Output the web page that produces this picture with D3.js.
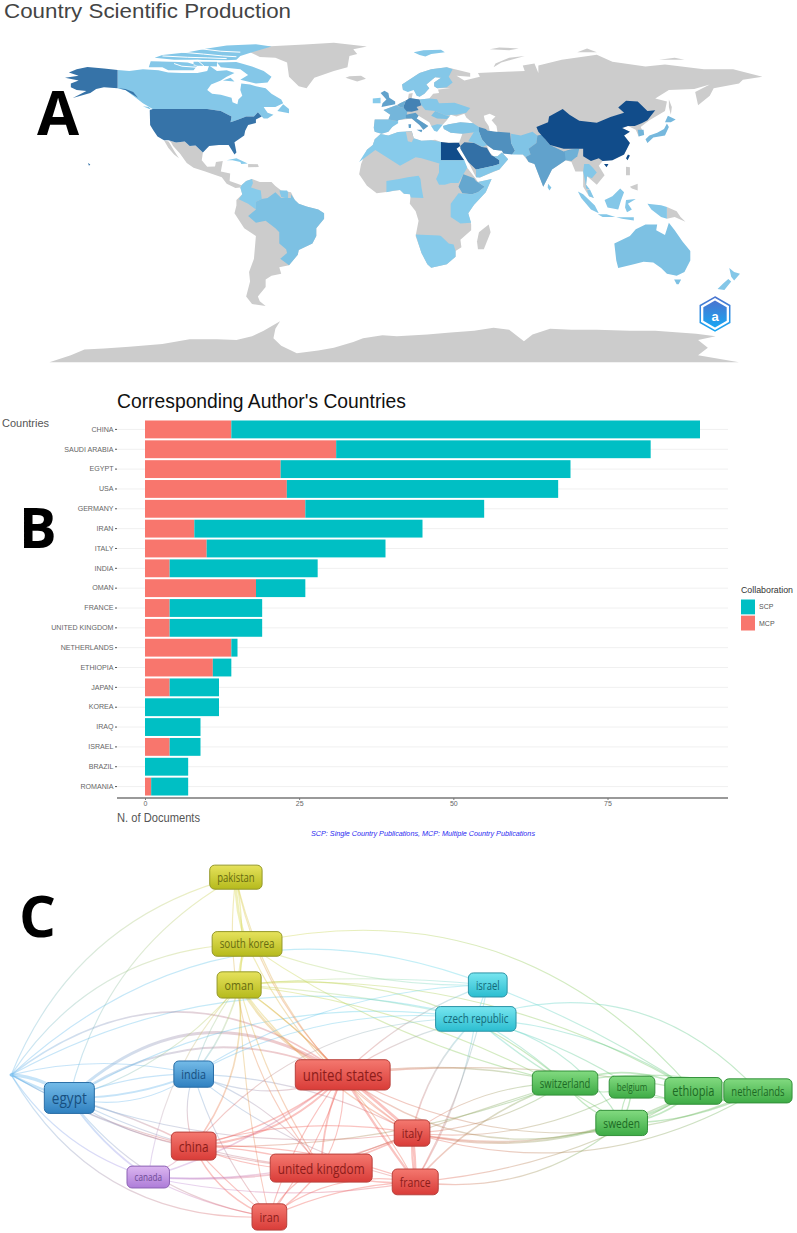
<!DOCTYPE html>
<html>
<head>
<meta charset="utf-8">
<script src="https://cdn.jsdelivr.net/npm/d3@7"></script>
<style>
  html, body { margin: 0; padding: 0; background: #fff; }
  svg { display: block; }
  text { font-family: "Liberation Sans", Arial, sans-serif; }
  .panel-letter { font-family: "Open Sans", sans-serif; font-weight: 700; fill: #000; }
  .node-label { font-family: "Open Sans", sans-serif; text-anchor: middle; dominant-baseline: central; }
  .soft { filter: blur(0.45px); }
</style>
</head>
<body>
<svg id="chart" width="797" height="1233"></svg>
<script>
// ---- panel A: map outlines as [lon, lat] rings ----
const greyLand = [
  // greenland, iceland
  [[-73,79],[-65,82],[-45,83],[-30,84],[-13,82],[-20,80.5],[-18,78],[-22,77],[-23,71],[-30,69],[-40,65.5],[-44,60],[-48,61],[-53,66],[-54,73.5],[-60,76],[-68,76.5]],
  [[-24,65.5],[-18,63.5],[-13.5,65],[-16,66.5],[-22,66.3]],
  // mexico and central america, baja
  [[-114.8,32.5],[-111,31.3],[-106.5,31.8],[-104,29.5],[-101,29.7],[-97.2,26],[-97.8,22],[-95,18.5],[-91,18.7],[-90.5,21],[-87,21.5],[-88,16],[-83.2,15],[-83.5,11],[-79.5,9.5],[-77.4,8.7],[-78,7.5],[-80.5,7.3],[-85,9.5],[-87.5,13],[-92,14.5],[-96,16],[-102,18],[-105.5,20.5],[-109,25.5],[-112.5,29.5],[-113.5,31.3]],
  [[-117.2,32.5],[-114.8,31.8],[-112,27],[-109.5,23],[-112,25],[-115,28.5]],
  [[-74,20],[-69,19.8],[-68.5,18.4],[-74,18.2]],
  // south america
  [[-77.4,8.7],[-75,11],[-72,12],[-68,10.5],[-62,10.5],[-60,8.3],[-57,6],[-52,5],[-50,1],[-48,-1],[-44,-2.5],[-38,-4],[-35,-6],[-35,-9],[-39,-14],[-39,-18],[-41,-22],[-48,-25.5],[-48.5,-28],[-53,-33.5],[-58,-34.5],[-57,-38],[-62,-39],[-65,-41],[-65,-45],[-69,-50],[-68,-52.5],[-65,-55],[-72,-54],[-75,-50],[-73,-42],[-73.5,-37],[-71,-30],[-70,-18],[-76,-14],[-81,-6],[-80,-2],[-80,1],[-77,4],[-78,7.5]],
  // antarctica
  [[-176,-84.7],[-165,-81],[-158,-78],[-148,-77.5],[-135,-76.5],[-118,-75],[-104,-72.6],[-90,-72.5],[-80,-73],[-72,-71],[-66,-68],[-57.6,-63],[-60,-67],[-61,-72],[-57,-76],[-49,-80],[-38,-78.5],[-30,-77],[-20,-74],[-15,-72],[-5,-70.5],[2.4,-71],[18,-70],[30,-69],[42,-68],[52,-66.5],[60,-67.5],[67.6,-73.6],[72,-70],[81,-67],[92,-67.5],[105,-67.5],[122,-68],[135,-68],[156,-69.6],[166,-71],[157,-73],[162,-77],[157,-81],[178,-84.7]],
  // africa
  [[-6,35.8],[-2,35],[3,36.8],[10,37.3],[11,33.5],[15,32.3],[20,32.5],[22,32.8],[25,31.6],[32,31.2],[34.3,31.2],[33,28],[35.5,24],[37,21],[38.5,18],[43,12],[44,10.5],[51,12],[48,5],[42,-1.5],[39,-6],[40.5,-12],[40.5,-15],[35,-20],[35.5,-24],[32.5,-26],[32.5,-29],[28,-33],[20,-34.8],[18,-33],[15,-27],[12,-18],[13.5,-10],[12,-5],[9,-1],[9.5,4],[6,4.3],[4,6.3],[-4,5],[-8,4.5],[-13,8.5],[-17,14.5],[-16,20],[-13,27.5],[-10,30],[-9,33]],
  [[49.5,-12],[50.5,-16],[47,-25],[44,-25],[43.5,-21],[44.5,-16]],
  // eurasia
  [[-9,37],[-9.5,39],[-9,43.5],[-2,43.5],[-1,46],[-4.5,48.5],[2,51],[4,52],[8,54],[8.5,57],[10.5,57.5],[10,54.5],[14,54],[19,54.5],[21,57],[24,57.5],[23.5,59.3],[30,60],[23,60],[21.5,61],[21.5,63],[25,65.5],[22,65.8],[17.5,62],[19,60],[16.5,57],[14,55.5],[11,59],[5.5,59],[5,62],[14,68],[20,70],[28,71],[40,68],[40,66],[33,66.5],[37,64],[45,66],[44,68],[55,68.5],[68,69],[67,72],[73,73],[75,68],[75,72],[87,75],[105,77.7],[113,74],[130,71.5],[140,72.5],[160,70],[175,70],[190,66],[180,64.5],[178,62.5],[165,60],[163,56],[157,51],[155.5,58],[163,62],[155,59.5],[142,59],[135,54.5],[141,53],[140,48],[132,43],[127.5,39.5],[129.3,36],[126.5,34.5],[125,38],[121,40],[118,39],[122,37],[119,35],[122,31],[119,25],[113,22],[108,21.5],[106,19],[109,14],[105,9],[100,13.5],[99.5,9],[103.5,2],[101,3],[98,8],[98,16],[94,16],[92,21],[89,22],[82,17],[80,13],[77.5,8],[73,20],[70,21],[67,25],[57,25.5],[56.3,27],[52,27.5],[48.5,30],[50,26],[52,24],[54,24],[56.3,26],[59.5,22.5],[55,17],[45,12.8],[43,13],[39,21],[35,28],[34.9,29.5],[34.3,31.2],[36,36],[30,36.5],[26.5,38.5],[26,40],[29,41],[35,42],[41.5,41.5],[38,44.5],[37,46.5],[33,45],[30,46],[28,43],[26,40.8],[23,40.5],[23,37],[20,40],[19,42],[13.5,45.5],[12.5,44],[18.5,40],[16,38],[14,40.5],[10,44],[3,43],[0,39.5],[-2,37],[-5.5,36]],
  // arctic and pacific islands
  [[52,71],[56,73.5],[68,77],[60,76],[53,73]],
  [[142,54],[143.5,50],[143,46],[142,50]],
  [[95,79],[105,79],[100,81]],
  [[137,75],[150,75],[145,76]],
  [[50,80.5],[60,80],[65,81],[55,81.5]],
  [[120,18.5],[122,18.3],[122,14],[120,14]],
  [[122,8],[126,9.5],[126,6],[123,7]],
  [[141,-2.7],[146,-5],[148,-8],[150.5,-10.5],[145,-8],[141,-9]]
];
const greyOver = [
  // tunisia sits grey inside the blue north of africa
  [[7,37],[10,37.3],[11,33.5],[10,31.5],[8,32]]
];
const seaRings = [
  [[47,45.5],[50,46.5],[53,45],[51,43],[53.5,40],[54,37],[50,37.5],[49.5,40],[47.5,43]]
];
// channels through the canadian archipelago
const seaLines = [
  [[-124,74.7],[-112,74.4],[-100,74.7],[-85,74.2],[-78,74]],
  [[-118,77],[-105,76.3],[-95,76],[-85,75.6]],
  [[-108,79],[-97,78],[-87,77],[-80,76.6]],
  [[-100,81],[-88,79.5],[-78,79]],
  [[-112,73],[-108,71.6],[-100,71]],
  [[-100,74.7],[-97,72],[-95,70]]
];
const countryNames = ["Canada","Canadian Arctic islands","USA","Cuba","Colombia","Guyana","Brazil","North Africa","Egypt","Sudan","Ethiopia","East Africa","Nigeria","Southern Africa","Nordics","UK","Ireland","Iberia","France","Germany","Benelux","Italy","Central Europe","Romania","Greece","Turkey","Iran","Iraq","Saudi Arabia","Oman","Pakistan","India","Bangladesh","Sri Lanka","China","South Korea","Japan","Thailand","Indonesia","Australia","New Zealand"];
const countryFreq = [11,11,92,10,10,11,13,10,250,10,25,10,10,10,11,28,10,12,17,63,22,32,11,13,11,12,45,11,100,11,12,28,20,12,250,18,16,11,11,13,11];
const countryRings = [
  [[[-141,69.6],[-135,69],[-128,70],[-120,69.5],[-115,68.3],[-108,68],[-100,68],[-95,69],[-94,72],[-90,69],[-85,69.5],[-81,68],[-85,66],[-88,64],[-93,62],[-95,59],[-92.5,57],[-88,56.5],[-82.5,55],[-82,52.5],[-79.5,51.5],[-79,54],[-77,56],[-78,59],[-77.5,62.5],[-73,62],[-70,61],[-65,60],[-62,57],[-57,54],[-56,52],[-60,50],[-66,50],[-65,48.5],[-64,47],[-61,46],[-64,44],[-66,44],[-67,45],[-69,47.3],[-71,45],[-75,45],[-79,43.5],[-83,42],[-82.5,45],[-88,48],[-95,49],[-123,49],[-128,52],[-133,56],[-137,59],[-141,60]],
   [[-59,48],[-53,46.7],[-53,49],[-56,51.5]],[[-128,50.5],[-123.5,48.5],[-125,50]]],
  [[[-62,66],[-64,63],[-70,62.5],[-78,64.5],[-74,67],[-78,70],[-88,71],[-90,73.5],[-80,73.8],[-72,71.5],[-66,69]],
   [[-125,71],[-124,74.2],[-112,74],[-105,73.5],[-100,72],[-102,69.5],[-115,69.5],[-118,71]],
   [[-122,76],[-112,75],[-100,75],[-95,74.7],[-85,74.7],[-80,75],[-78,77],[-72,79],[-62,82],[-70,83.2],[-85,82.5],[-95,81],[-105,79],[-118,77.5]],
   [[-102,72],[-90,71.5],[-90,74],[-102,74]],
   [[-87,64],[-81,63.5],[-83,65.5]]],
  [[[-124.5,48.4],[-123,49],[-95,49],[-88,48],[-82.5,45],[-83,42],[-79,43.5],[-75,45],[-71,45],[-69,47.3],[-67,45],[-70,43.5],[-70,41.6],[-74,40.5],[-75.5,37.5],[-76,35],[-81,31.5],[-80,26],[-81,25],[-82.8,28],[-84,30],[-89,30],[-94,29.5],[-97.2,26],[-101,29.7],[-104,29.5],[-106.5,31.8],[-111,31.3],[-114.8,32.5],[-117.2,32.5],[-120.5,34.5],[-122.5,37.5],[-124.3,40.5]],
   [[-141,69.6],[-148,70.4],[-156.5,71.2],[-162,70],[-166,68.3],[-161,66.5],[-168,65.5],[-161,64],[-165,62.5],[-165,60.5],[-162,59],[-157,58.5],[-164,54.8],[-155,57.5],[-152,59.5],[-148,60.5],[-141,60]],
   [[-141,60],[-137,59],[-130.5,55],[-133,58],[-137,59.6]],
   [[-156.2,20.5],[-155,19.7],[-155.7,19]]],
  [[[-85,22],[-80,23],[-74.2,20.2],[-77.5,19.9],[-78,21],[-82,22]]],
  [[[-77.4,8.7],[-75,11],[-72,12],[-71.5,10],[-72.5,7.5],[-67.5,6],[-67,1.5],[-70,0],[-70,-4],[-74,-1],[-78.8,1.4],[-77,4],[-78,7.5]]],
  [[[-58,6],[-54,6],[-53.5,5],[-53.5,2],[-55,2],[-57,2.5]]],
  [[[-52,4],[-50,1],[-48,-1],[-44,-2.5],[-38,-4],[-35,-6],[-35,-9],[-39,-14],[-39,-18],[-41,-22],[-48,-25.5],[-48.5,-28],[-53,-33.5],[-57.5,-30],[-54,-27],[-54.5,-25],[-58,-22],[-58,-16],[-60,-14],[-65,-10],[-70,-11],[-74,-7.5],[-70,-4],[-70,0],[-67,1.5],[-64,2],[-60,5],[-57,2],[-52,2]]],
  [[[-6,35.8],[-2,35],[3,36.8],[10,37.3],[11,33.5],[15,32.3],[20,32.5],[25,31.6],[25,20],[15,23],[12,23.5],[4,19],[-8.7,27.3],[-17,21],[-13,27.5],[-10,30],[-9,33]]],
  [[[25,31.6],[29,31],[32,31.2],[34.3,31.2],[34.9,29.5],[33,28],[35.5,24],[37,22],[25,22]]],
  [[[24,19.5],[25,22],[37,22],[38.5,18],[36.5,14.5],[34,10],[30,10],[27,9],[24,9],[22.5,12],[24,15.5]]],
  [[[36.5,14.5],[42,12.5],[43,11],[47.5,8],[44,5],[41,4],[36,4.5],[34,8]]],
  [[[47.5,8],[44,10.5],[51,12],[48,5],[42,-1.5],[39,-6],[40.5,-11],[35,-11.5],[30,-8],[30,-1],[34,4.5],[41,4],[44,5]]],
  [[[-3,5],[1,6],[4,6.3],[6,4.3],[9,4],[9.5,2.3],[16,2],[15,7.5],[14.5,12],[13.5,13.7],[8,13],[3.5,12],[-3,11]]],
  [[[12,-17.3],[24,-17.8],[25,-18],[29,-22],[31.5,-22.5],[32.5,-26],[32.5,-29],[28,-33],[20,-34.8],[18,-33],[15,-27]]],
  [[[5.5,59],[5,62],[14,68],[20,70],[28,71],[31,70],[29,66],[31,63],[28,60.5],[23,60],[21.5,61],[21.5,63],[25,65.5],[22,65.8],[17.5,62],[19,60],[16.5,57],[14,55.5],[12.5,56],[11,59],[8,58]],
   [[11,79],[16,80],[25,80.3],[27,79],[20,78],[17,76.7],[14,77.5]]],
  [[[-5.5,50],[1.5,51.5],[1.5,53],[-1.5,55],[-2,57.5],[-4,58.7],[-6,57.5],[-3,54],[-5,52]]],
  [[[-10,52],[-6,52],[-6,55],[-10,54.5]]],
  [[[-9,37],[-9.5,39],[-9,43.5],[-2,43.5],[3,42.5],[3,41.5],[0,39.5],[-2,37],[-5.5,36]]],
  [[[-2,43.5],[-1,46],[-4.5,48.5],[2,51],[4,50],[8,49],[7,44],[3,43],[3,42.5]]],
  [[[6,51],[7,53.5],[9,54.8],[14,54],[15,51],[12.5,50],[13.5,48.5],[10,47.5],[7.5,47.7],[6,49.5]]],
  [[[2.5,51],[4,52],[7,53.5],[6,51],[6,49.5],[4,50]]],
  [[[7,44],[7,46],[12,47],[13.5,45.5],[12.5,44],[18.5,40],[16,38],[14,40.5],[10,44]],[[12.5,38],[15.5,38],[15,36.7]],[[8.3,41],[9.7,41],[9.5,39],[8.5,39]]],
  [[[14,54],[19,54.5],[23,54.2],[24,52],[32,52.3],[40,49.5],[38,47],[33,46],[30,46],[28,45.5],[22,48],[17,48.5],[15,51]]],
  [[[22,48],[28,45.5],[29.5,45],[28,43.7],[23,44],[20,45.5]]],
  [[[20,40],[23,40.9],[26,40.8],[23,37],[21.5,37.5]]],
  [[[26.5,38.5],[26,40],[29,41],[35,42],[41.5,41.5],[44.5,39.5],[44.5,37],[36,36],[30,36.5]]],
  [[[44.5,39.5],[48,38.5],[49,37.5],[54,37],[60.5,36.5],[61,31],[63,27],[61.5,25],[57,25.5],[56.3,27],[52,27.5],[48.5,30],[46,33],[44.5,37]]],
  [[[39,32],[42,37],[44.5,37.2],[46,33],[48.5,30],[46.5,29],[42,31]]],
  [[[34.9,29.5],[37,31.5],[42,31],[46,29],[48.5,28.5],[50,26],[51,24.5],[52,24],[55,22],[55,20],[52,19],[45,17.5],[43,17],[39,21],[35,28]]],
  [[[52,24],[54,24],[56.3,26],[59.5,22.5],[55,17],[52,16],[45,12.8],[43,13],[43,17],[45,17.5],[52,19],[55,20],[55,22]]],
  [[[61,31],[63,27],[61.5,25],[67,25],[68.5,23.7],[71,25],[70,28],[74,31],[74.5,35],[72,37],[66,35],[61,36]]],
  [[[68.5,23.7],[70,21],[73,20],[77.5,8],[80,13],[82,17],[89,22],[92,24],[96,28],[91,27.5],[88,26.5],[81,30],[78.5,33],[77,35.5],[74.5,35],[74,31],[70,28],[71,25]]],
  [[[88.5,26.5],[92,27.5],[96,28],[95,24],[92,21.5],[89,22]]],
  [[[80,9.5],[81.7,7.5],[80.7,6],[79.8,7.5]]],
  [[[74,39.5],[80,42],[80.5,45],[87.5,49],[91,46],[96,42.8],[105,41.8],[112,44.8],[119,47],[116,49.8],[120,53.3],[126,53],[131,48],[135,48.3],[131,43],[128,41.5],[124.5,40],[121,40],[118,39],[122,37],[119,35],[122,31],[119,25],[113,22],[108,21.5],[106,23],[102,21.5],[98,24],[98,28],[92,28],[88,28],[81,30],[78.5,33],[75,37]],[[121,25],[122,24.5],[120.8,22],[120,23]],[[108.7,20],[111,20],[110,18.2]]],
  [[[126,38],[129,38],[129.3,35.3],[126.5,34.5]]],
  [[[130,33],[131,31],[134,34],[140,35],[142,39.5],[141,41.3],[139.5,38.5],[136,36.5],[132,35]],[[140,42],[141.5,45.5],[145.5,43.5],[143,42]]],
  [[[98,16],[98.5,20],[101,20],[103,18],[105,15.5],[102.5,12.5],[100,13.5],[99.5,9],[101.5,6.5],[99.5,7],[99,11]]],
  [[[95.3,5.5],[98,4],[104,-2],[106,-6],[102,-4],[97,2]],[[105.5,-6.5],[110,-6.5],[114.5,-8],[108,-8]],[[109,1],[113,3],[117,7],[119,5],[117.5,1],[116,-4],[110.5,-3]],[[120,1],[125,1.5],[121,-1],[123,-4],[120.5,-5.5],[119.5,-3]],[[131,-1],[138,-1.8],[141,-2.7],[141,-9],[138,-8],[133,-4]],[[115,-8.2],[124,-8.2],[124,-9.8],[118,-9]],[[101.5,6.5],[103.5,2],[101,3],[100,6]]],
  [[[114,-22],[122,-18],[125,-14.5],[130,-12],[136,-12],[135.5,-15],[140,-17.5],[142,-11],[145,-15],[149,-21],[153,-26],[153,-31],[150,-37],[146,-39],[141,-38],[138,-35],[134,-32],[129,-31.7],[124,-33],[116,-35],[115,-31]],[[144.7,-41],[148.3,-41],[147,-43.5],[146,-43.5]]],
  [[[173,-35],[175.5,-37],[178.5,-38],[175.5,-41.5],[174,-39.5]],[[172.5,-40.7],[174,-42],[170.5,-46.5],[167,-46],[170,-43]]]
];

// ---- panel B ----
const barCountries = ["CHINA","SAUDI ARABIA","EGYPT","USA","GERMANY","IRAN","ITALY","INDIA","OMAN","FRANCE","UNITED KINGDOM","NETHERLANDS","ETHIOPIA","JAPAN","KOREA","IRAQ","ISRAEL","BRAZIL","ROMANIA"];
const mcpValues = [14,31,22,23,26,8,10,4,18,4,4,14,11,4,0,0,4,0,1];
const scpValues = [76,51,47,44,29,37,29,24,8,15,15,1,3,8,12,9,5,7,6];
const xTicks = [0,25,50,75];
const legendKeys = ["SCP","MCP"];
const legendColors = ["#00BFC4","#F8766D"];

// ---- panel C: layout units are percent of the panel ----
const nodeNames = ["","pakistan","south korea","oman","india","egypt","united states","china","canada","united kingdom","iran","israel","czech republic","switzerland","belgium","ethiopia","netherlands","sweden","italy","france"];
const nodeX = [1.4,29.6,31.0,30.0,24.3,8.7,43.0,24.3,18.6,40.3,33.8,61.2,59.7,70.9,79.3,87.0,95.1,78.0,51.7,52.1];
const nodeY = [57.6,4.6,22.5,33.5,57.4,63.8,57.6,76.7,85.0,82.6,95.7,33.5,42.6,59.8,60.9,61.9,61.9,70.5,73.2,86.3];
const nodeCluster = ["blue","yellow","yellow","yellow","blue","blue","red","red","purple","red","red","cyan","cyan","green","green","green","green","green","red","red"];
const nodeWeight = [0,6,7,10,10,22,20,14,3,14,10,6,7,6,3,11,6,8,10,9];
const clusterTop = {blue:"#74bbe8",yellow:"#e6e25c",red:"#f4786f",purple:"#dcb6f0",cyan:"#78e6f0",green:"#82da80"};
const clusterBottom = {blue:"#2f80c0",yellow:"#b5ba1c",red:"#d93c38",purple:"#ad7cd8",cyan:"#2bbdd0",green:"#3dab45"};
const clusterBorder = {blue:"#2a6ea6",yellow:"#94982a",red:"#b8403c",purple:"#8c62b4",cyan:"#2c93a6",green:"#33903a"};
const clusterText = {blue:"#174f80",yellow:"#666a10",red:"#8c1c1a",purple:"#6d4a94",cyan:"#146878",green:"#1d6a24"};
const clusterLink = {blue:"#62b4ec",yellow:"#d5d440",red:"#f05a52",purple:"#b48ce6",cyan:"#58d6e6",green:"#5cc05c"};
// source, target, width, bend (share of the chord, + is upwards)
const linkRows = [
  ["","pakistan",1,.25],["","south korea",1,.26],["","israel",1,.31],["","czech republic",1,.2],["","united states",1.4,.38],
  ["","egypt",3,.16],["","egypt",2,-.06],["","india",1,.12],["","china",1,-.08],["","canada",1,-.18],["","iran",1,-.3],["","united kingdom",1,-.12],
  ["egypt","united states",2.4,.39],["egypt","united states",1.6,.28],["egypt","pakistan",1,.22],["egypt","oman",1,-.15],["egypt","india",1.6,-.1],["egypt","india",1.2,.1],["egypt","india",1,-.22],
  ["egypt","china",1.2,.05],["egypt","china",1,-.12],["egypt","canada",1.6,-.1],["egypt","united kingdom",1,-.1],["egypt","italy",1,-.12],["egypt","iran",1,-.2],["egypt","czech republic",1,.18],
  ["india","oman",1.4,-.12],["india","oman",1,.1],["india","united states",1,-.22],["india","united kingdom",1,.15],["india","china",1,-.18],["india","france",1,-.12],["india","iran",1,-.1],["india","italy",1,.12],
  ["pakistan","south korea",2.4,-.1],["south korea","oman",2,.12],["oman","pakistan",1.2,.08],
  ["oman","united states",2.2,-.18],["oman","united states",1.2,.05],["oman","china",1.4,-.2],["oman","united kingdom",1,-.08],["oman","italy",1.2,-.12],["oman","iran",1,-.05],["oman","france",1,.12],["oman","switzerland",1,.22],
  ["oman","ethiopia",1,.16],["oman","canada",1,.16],["south korea","ethiopia",1,.3],["south korea","switzerland",1,-.1],["south korea","israel",1,-.1],["south korea","italy",1,-.15],["pakistan","united states",1,-.16],["pakistan","united kingdom",1,-.22],["pakistan","italy",1,-.2],
  ["oman","sweden",1,.12],
  ["israel","ethiopia",1,.06],["czech republic","netherlands",1,.32],["czech republic","switzerland",1.2,-.05],["czech republic","switzerland",1,.06],["czech republic","belgium",1.2,.08],["czech republic","ethiopia",1,.14],["czech republic","sweden",1,.22],
  ["czech republic","italy",1.4,.15],["czech republic","united states",1,.1],["czech republic","china",1,.24],["czech republic","india",1,.16],["israel","united states",1.2,.12],["israel","india",1,.14],["israel","czech republic",1,.02],["israel","oman",1,.05],["czech republic","oman",1,.04],["czech republic","france",1,-.1],["israel","france",1,-.08],
  ["switzerland","ethiopia",1.4,.22],["switzerland","netherlands",1,.12],["switzerland","sweden",1.2,-.18],["switzerland","belgium",1,-.2],["belgium","sweden",1.2,-.1],["belgium","sweden",1,.2],["belgium","ethiopia",1,-.3],["belgium","netherlands",1,-.2],
  ["sweden","ethiopia",2,-.08],["sweden","ethiopia",1.4,-.18],["sweden","netherlands",1,-.12],["ethiopia","netherlands",1,-.3],["switzerland","italy",1,-.14],["belgium","italy",1,-.16],
  ["united states","italy",2.4,.03],["united states","france",2,-.02],["italy","france",2.4,.04],["france","italy",1.4,-.06],["united states","china",1.8,-.2],["united states","china",1.2,-.12],["united states","united kingdom",1.6,.1],["united states","united kingdom",1,-.16],
  ["united states","iran",1,-.08],["united states","iran",1,.1],["united kingdom","italy",1.4,-.05],["united kingdom","france",1.2,-.12],["united kingdom","iran",1.4,-.1],["united kingdom","iran",1,.18],["united kingdom","china",1.2,.08],["china","iran",1.2,-.2],["china","iran",1,-.05],["china","france",1,.1],["china","italy",1,.12],["china","canada",1,-.1],["iran","france",1,.1],["iran","france",1,.22],["china","united kingdom",1,-.12],
  ["canada","united kingdom",1.6,-.06],["canada","iran",1,-.08],["canada","france",1,-.1],["canada","united states",1.4,-.1],["canada","italy",1.2,-.12],
  ["italy","sweden",1.6,-.14],["italy","ethiopia",1.4,-.18],["united states","sweden",1.2,-.26],["united states","netherlands",1,-.24],["italy","netherlands",1,-.22],["united states","switzerland",1.2,.1],["united states","ethiopia",1,.08],["france","switzerland",1.4,.14],["france","sweden",1,-.22],["united kingdom","switzerland",1,.02],["china","switzerland",1,-.1],["italy","switzerland",1,.16],["france","ethiopia",1,-.12]
];

const svg = d3.select("#chart");

// ---- panel A ----
const lonScale = d3.scaleLinear().domain([-168, 178]).range([65, 739]);
const latScale = d3.scaleLinear().domain([49, -55]).range([109, 306]);
const mapPath = d3.geoPath(d3.geoTransform({
  point(lon, lat) { this.stream.point(lonScale(lon), latScale(lat)); }
}));
// geo rings have to repeat their first point or the stream drops the last one
const ringPath = ring => mapPath({ type: "Polygon", coordinates: [[...ring, ring[0]]] });
const freqColor = d3.scaleLog().domain([10, 250]).range(["#87cbeb", "#114c8a"]).clamp(true);

svg.append("text").attr("x", 4).attr("y", 17.5).attr("font-size", 20).attr("fill", "#444")
  .attr("textLength", 287).attr("lengthAdjust", "spacingAndGlyphs").text("Country Scientific Production");

const map = svg.append("g").attr("class", "soft");
map.selectAll("path.land").data(greyLand).enter().append("path").attr("class", "land")
  .attr("d", ringPath).attr("fill", "#cccccc");
countryRings.forEach((rings, i) => {
  map.append("path").attr("d", rings.map(ringPath).join("")).attr("fill", freqColor(countryFreq[i]))
    .append("title").text(countryNames[i]);
});
map.selectAll("path.over").data(greyOver).enter().append("path").attr("class", "over")
  .attr("d", ringPath).attr("fill", "#cccccc");
map.selectAll("path.sea").data(seaRings).enter().append("path").attr("class", "sea")
  .attr("d", ringPath).attr("fill", "#fff");
map.selectAll("path.channel").data(seaLines).enter().append("path").attr("class", "channel")
  .attr("d", l => mapPath({ type: "LineString", coordinates: l }))
  .attr("fill", "none").attr("stroke", "#fff").attr("stroke-width", 1);

// watermark badge
const badge = svg.append("g").attr("transform", "translate(715,314)");
const hexAngles = d3.range(6).map(i => i * Math.PI / 3);
const hexLine = r => d3.lineRadial().angle(a => a).radius(r).curve(d3.curveLinearClosed)(hexAngles);
const badgeGrad = svg.append("defs").append("linearGradient").attr("id", "badge").attr("x2", 0).attr("y2", 1);
badgeGrad.append("stop").attr("offset", 0).attr("stop-color", "#4a74cf");
badgeGrad.append("stop").attr("offset", 1).attr("stop-color", "#18a6f2");
badge.append("path").attr("d", hexLine(17)).attr("fill", "#fff").attr("stroke", "url(#badge)").attr("stroke-width", 1.5);
badge.append("path").attr("d", hexLine(13.5)).attr("fill", "url(#badge)");
badge.append("text").attr("text-anchor", "middle").attr("y", 7).attr("font-size", 13).attr("font-weight", 700).attr("fill", "#fff").text("a");

// ---- panel B ----
const x = d3.scaleLinear().domain([0, 90]).range([145, 700]);
const y = d3.scaleBand().domain(barCountries).range([419.5, 796.5]).paddingInner(0.1).paddingOuter(0.05);
const barRows = barCountries.map((c, i) => ({ country: c, MCP: mcpValues[i], SCP: scpValues[i] }));
const stacked = d3.stack().keys(["MCP", "SCP"])(barRows);
const barColor = d3.scaleOrdinal().domain(legendKeys).range(legendColors);

svg.append("text").attr("x", 117).attr("y", 408).attr("font-size", 20).attr("fill", "#111")
  .attr("textLength", 289).attr("lengthAdjust", "spacingAndGlyphs").text("Corresponding Author's Countries");
svg.append("text").attr("x", 2).attr("y", 427).attr("font-size", 11.5).attr("fill", "#555")
  .attr("textLength", 47).attr("lengthAdjust", "spacingAndGlyphs").text("Countries");

svg.append("g").selectAll("line").data(barCountries).enter().append("line")
  .attr("x1", 117).attr("x2", 728)
  .attr("y1", d => y(d) + y.bandwidth() / 2).attr("y2", d => y(d) + y.bandwidth() / 2)
  .attr("stroke", "#f0f0f0");

svg.append("g").selectAll("g").data(stacked).enter().append("g")
  .attr("fill", d => barColor(d.key))
  .selectAll("rect").data(d => d).enter().append("rect")
  .attr("x", d => x(d[0])).attr("y", d => y(d.data.country))
  .attr("width", d => x(d[1]) - x(d[0])).attr("height", y.bandwidth());

const yAxis = svg.append("g").attr("transform", "translate(117,0)")
  .call(d3.axisLeft(y).tickSize(2).tickPadding(1.5));
yAxis.select(".domain").remove();
yAxis.selectAll("text").attr("font-size", 7.1).attr("fill", "#666").style("font-family", '"Liberation Sans"');
yAxis.selectAll("line").attr("stroke", "#555");

const xAxis = svg.append("g").attr("transform", "translate(0,798)")
  .call(d3.axisBottom(x).tickValues(xTicks).tickSize(2).tickPadding(1.5));
xAxis.select(".domain").attr("d", "M117,0H728").attr("stroke", "#777").attr("stroke-width", 1.4);
xAxis.selectAll("text").attr("font-size", 7).attr("fill", "#666").style("font-family", '"Liberation Sans"');
xAxis.selectAll("line").attr("stroke", "#777");

svg.append("text").attr("x", 117).attr("y", 822).attr("font-size", 12.5).attr("fill", "#555")
  .attr("textLength", 83).attr("lengthAdjust", "spacingAndGlyphs").text("N. of Documents");
svg.append("text").attr("x", 311).attr("y", 835.5).attr("font-size", 6.6).attr("font-style", "italic").attr("fill", "#2a2af0")
  .attr("textLength", 224).attr("lengthAdjust", "spacingAndGlyphs").text("SCP: Single Country Publications, MCP: Multiple Country Publications");

svg.append("text").attr("x", 741).attr("y", 593).attr("font-size", 9).attr("fill", "#333")
  .attr("textLength", 52).attr("lengthAdjust", "spacingAndGlyphs").text("Collaboration");
const legendY = d3.scaleBand().domain(legendKeys).range([599.5, 630.5]).paddingInner(0.08);
svg.append("g").selectAll("rect").data(legendKeys).enter().append("rect")
  .attr("x", 741).attr("width", 14).attr("y", d => legendY(d)).attr("height", legendY.bandwidth())
  .attr("fill", d => barColor(d));
svg.append("g").selectAll("text").data(legendKeys).enter().append("text")
  .attr("x", 759).attr("y", d => legendY(d) + legendY.bandwidth() / 2 + 2.5)
  .attr("font-size", 7).attr("fill", "#555").text(d => d);

// ---- panel C ----
const netX = d3.scaleLinear().domain([0, 100]).range([0, 797]);
const netY = d3.scaleLinear().domain([0, 100]).range([860, 1233]);
const fontScale = d3.scaleSqrt().domain([3, 22]).range([10.2, 17]);
const nodes = nodeNames.map((name, i) => ({ name, x: netX(nodeX[i]), y: netY(nodeY[i]), cluster: nodeCluster[i], weight: nodeWeight[i] }));
const nodeByName = new Map(nodes.map(n => [n.name, n]));
const defs = svg.append("defs");
const linkLayer = svg.append("g").attr("class", "soft");

linkRows.forEach((row, i) => {
  let [a, b] = [nodeByName.get(row[0]), nodeByName.get(row[1])];
  const gid = "lk" + i;
  const grad = defs.append("linearGradient").attr("id", gid).attr("gradientUnits", "userSpaceOnUse")
    .attr("x1", a.x).attr("y1", a.y).attr("x2", b.x).attr("y2", b.y);
  grad.append("stop").attr("offset", 0).attr("stop-color", clusterLink[a.cluster]);
  grad.append("stop").attr("offset", 1).attr("stop-color", clusterLink[b.cluster]);
  if (a.x > b.x) [a, b] = [b, a];
  const dx = b.x - a.x, dy = b.y - a.y;
  const p = d3.path();
  p.moveTo(a.x, a.y);
  p.quadraticCurveTo((a.x + b.x) / 2 + dy * row[3], (a.y + b.y) / 2 - dx * row[3], b.x, b.y);
  linkLayer.append("path").attr("d", p.toString()).attr("fill", "none")
    .attr("stroke", `url(#${gid})`).attr("stroke-width", row[2] * 1.15).attr("stroke-opacity", 0.36);
});

Object.keys(clusterTop).forEach(c => {
  const g = defs.append("linearGradient").attr("id", "node-" + c).attr("x2", 0).attr("y2", 1);
  g.append("stop").attr("offset", 0).attr("stop-color", clusterTop[c]);
  g.append("stop").attr("offset", 1).attr("stop-color", clusterBottom[c]);
});

const nodeG = svg.append("g").selectAll("g").data(nodes.filter(n => n.name)).enter().append("g")
  .attr("transform", d => `translate(${d.x},${d.y})`);
nodeG.append("text").attr("class", "node-label")
  .attr("font-size", d => fontScale(d.weight))
  .attr("fill", d => clusterText[d.cluster])
  .text(d => d.name);
nodeG.each(function (d) {
  const g = d3.select(this), fs = fontScale(d.weight), label = g.select("text");
  // labels in the picture are squeezed horizontally
  const tw = label.node().getComputedTextLength() * 0.8;
  label.attr("textLength", tw).attr("lengthAdjust", "spacingAndGlyphs");
  const w = tw + 15, h = fs * 1.33 + 8.3;
  g.insert("rect", "text").attr("x", -w / 2).attr("y", -h / 2).attr("width", w).attr("height", h)
    .attr("rx", 5).attr("fill", `url(#node-${d.cluster})`).attr("stroke", clusterBorder[d.cluster]).attr("stroke-width", 1);
});
svg.append("circle").attr("cx", netX(nodeX[0])).attr("cy", netY(nodeY[0])).attr("r", 1.6).attr("fill", "#8cc8f0");

// panel letters
const panelLetters = [["A", 37, 135, 61], ["B", 19, 548, 56], ["C", 19, 937, 58]];
svg.selectAll("text.panel-letter").data(panelLetters).enter().append("text").attr("class", "panel-letter")
  .attr("x", d => d[1]).attr("y", d => d[2]).attr("font-size", d => d[3]).text(d => d[0]);
</script>
</body>
</html>
